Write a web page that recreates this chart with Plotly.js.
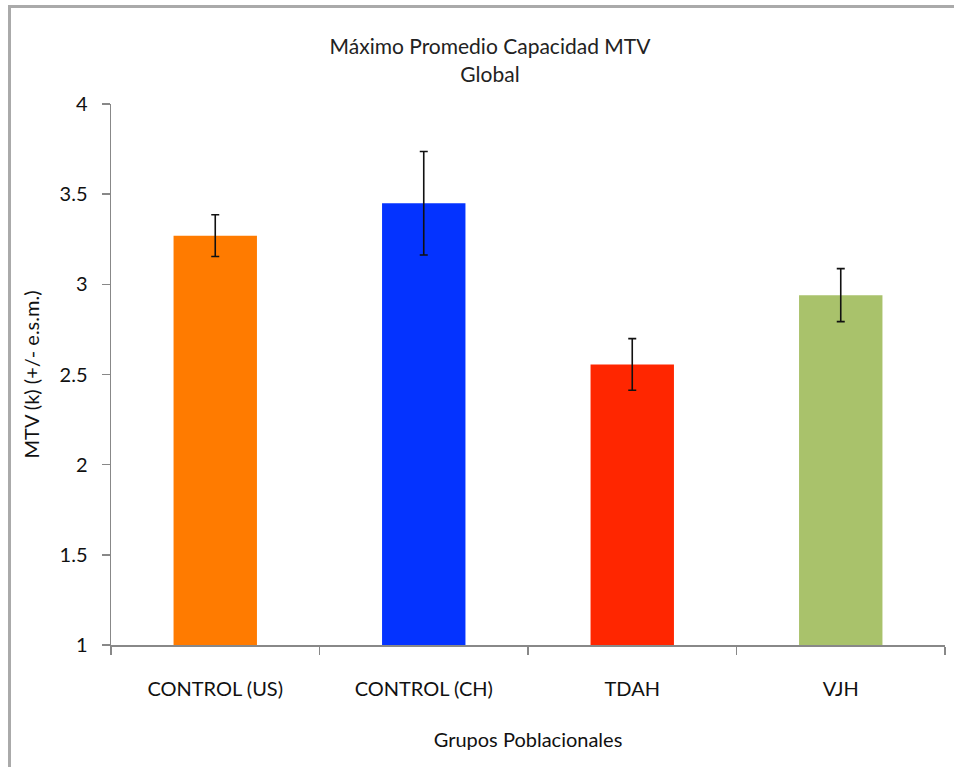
<!DOCTYPE html>
<html>
<head>
<meta charset="utf-8">
<script src="https://cdn.plot.ly/plotly-3.0.1.min.js"></script>
<style>html,body{margin:0;padding:0;background:#fff;}#chart{width:954px;height:767px;}</style>
</head>
<body>
<div id="chart"></div>
<script>
const categories = ["CONTROL (US)", "CONTROL (CH)", "TDAH", "VJH"];
const means = [3.27, 3.45, 2.556, 2.94];
const sem = [0.116, 0.287, 0.143, 0.147];
const barColors = ["#FF7B00", "#0433FF", "#FF2600", "#A9C26B"];
const yTicks = [1, 1.5, 2, 2.5, 3, 3.5, 4];
const yTickLabels = ["1", "1.5", "2", "2.5", "3", "3.5", "4"];

const FONT = "Lato, 'Open Sans', sans-serif";

const trace = {
  type: "bar",
  x: categories,
  y: means,
  marker: {color: barColors, line: {width: 0}},
  error_y: {type: "data", array: sem, visible: true, color: "#111", thickness: 1.6, width: 4},
  hoverinfo: "x+y",
  showlegend: false
};

const layout = {
  width: 954, height: 767,
  margin: {l: 111, r: 9, t: 104, b: 122},
  paper_bgcolor: "#fff", plot_bgcolor: "#fff",
  font: {family: FONT, size: 20, color: "#111"},
  bargap: 0.6,
  title: {
    text: "Máximo Promedio Capacidad MTV<br>Global",
    font: {family: FONT, size: 21, color: "#222"},
    xref: "container", x: 0.5136, xanchor: "center",
    yref: "container", y: 0.9291, yanchor: "middle"
  },
  xaxis: {
    type: "category",
    tickson: "boundaries",
    ticks: "outside", ticklen: 8, tickcolor: "#888", tickwidth: 1.5,
    ticklabelstandoff: 25,
    showline: true, linecolor: "#888", linewidth: 1.5,
    showgrid: false, zeroline: false,
    tickfont: {family: FONT, size: 20, color: "#111"},
    title: {text: "Grupos Poblacionales", font: {family: FONT, size: 20, color: "#111"}, standoff: 34}
  },
  yaxis: {
    range: [1, 4],
    tickmode: "array", tickvals: yTicks, ticktext: yTickLabels,
    ticks: "outside", ticklen: 8, tickcolor: "#888", tickwidth: 1.5,
    ticklabelstandoff: 10,
    showline: true, linecolor: "#888", linewidth: 1.5,
    showgrid: false, zeroline: false,
    tickfont: {family: FONT, size: 20, color: "#111"},
    title: {text: "MTV (k) (+/- e.s.m.)", font: {family: FONT, size: 20, color: "#111"}, standoff: 14}
  },
  shapes: [
    {type: "line", xref: "paper", yref: "paper", x0: -0.1217, x1: -0.1217, y0: -0.25, y1: 1.1825,
     line: {color: "#aaa", width: 3}},
    {type: "line", xref: "paper", yref: "paper", x0: -0.1235, x1: 1.03, y0: 1.1802, y1: 1.1802,
     line: {color: "#aaa", width: 3}}
  ]
};

Plotly.newPlot("chart", [trace], layout, {displayModeBar: false, staticPlot: true});
</script>
</body>
</html>
